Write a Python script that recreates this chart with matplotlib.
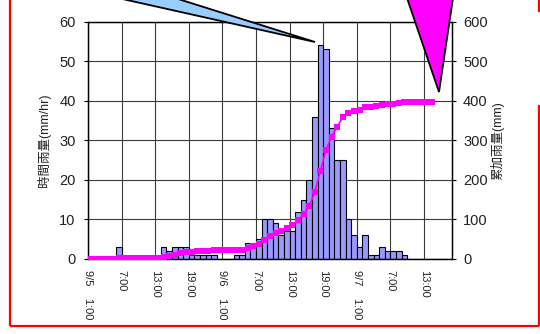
import numpy as np
import matplotlib
matplotlib.use("Agg")
import matplotlib.pyplot as plt
from matplotlib.patches import Polygon
from matplotlib.lines import Line2D

# Hourly rainfall (mm/hr), one value per hour starting 9/5 1:00
hourly = [0, 0, 0, 0, 0, 3, 0, 0, 0, 0, 0, 0, 0, 3, 2, 3, 3, 3, 1, 1,
          1, 1, 1, 0, 0, 0, 1, 1, 4, 4, 5, 10, 10, 9, 6, 7, 7, 12, 15, 20,
          36, 54, 53, 33, 25, 25, 10, 6, 3, 6, 1, 1, 3, 2, 2, 2, 1, 0, 0, 0,
          0, 0, 0, 0, 0]

# Accumulated rainfall (mm)
cumulative = [0, 0, 0, 0, 0, 3, 3, 3, 3, 3, 3, 3, 3, 6, 8, 11, 14, 17, 18, 19,
              20, 21, 22, 22, 22, 22, 23, 24, 28, 32, 37, 47, 57, 66, 72, 79, 86, 98, 113, 133,
              169, 223, 276, 309, 334, 359, 369, 375, 378, 384, 385, 386, 389, 391, 393, 395, 396, 396, 396, 396,
              396, 396]

tick_hours = [0, 6, 12, 18, 24, 30, 36, 42, 48, 54, 60]
tick_labels = ["9/5    1:00", "7:00", "13:00", "19:00", "9/6    1:00", "7:00",
               "13:00", "19:00", "9/7    1:00", "7:00", "13:00"]

FONT = ["Liberation Sans", "Noto Sans CJK TC", "DejaVu Sans"]
plt.rcParams["font.family"] = FONT

W, H = 540, 334
fig = plt.figure(figsize=(W / 100, H / 100), dpi=100)
fig.patch.set_facecolor("white")

left, right, top, bottom = 88, 452, 21.7, 259
ax = fig.add_axes([left / W, (H - bottom) / H, (right - left) / W, (bottom - top) / H])

x_bar = np.arange(len(hourly)) + 0.5
ax.bar(x_bar, hourly, width=1.0, color="#9999FF", edgecolor="black",
       linewidth=0.8, zorder=2)
ax.set_xlim(0, 65)
ax.set_ylim(0, 60)
ax.set_yticks(range(0, 61, 10))
ax.set_xticks(tick_hours)
ax.set_xticklabels(tick_labels, rotation=-90, fontsize=8, color="#222222")
ax.tick_params(axis="x", length=0, pad=8)
ax.tick_params(axis="y", length=3, pad=6, labelsize=10.5, labelcolor="#222222")
ax.grid(True, color="#3a3a3a", linewidth=0.8, zorder=0)
ax.set_axisbelow(True)
for s in ax.spines.values():
    s.set_color("black")
    s.set_linewidth(0.9)
ax.set_ylabel("時間雨量(mm/hr)", fontsize=9, labelpad=6, color="#222222")

ax2 = ax.twinx()
x_cum = np.arange(len(cumulative)) + 0.5
ax2.plot(x_cum, cumulative, color="#FF00FF", linewidth=1.2, marker="s",
         markersize=4.5, markeredgewidth=0, zorder=3)
ax2.set_ylim(0, 600)
ax2.set_yticks(range(0, 601, 100))
ax2.tick_params(axis="y", length=3, pad=5, labelsize=10.5, labelcolor="#222222")
for s in ax2.spines.values():
    s.set_color("black")
    s.set_linewidth(0.9)
ax2.set_ylabel("累加雨量(mm)", fontsize=9, labelpad=2, color="#222222")


def px(points):
    """Convert pixel positions (origin top-left) to figure inches."""
    return [(xp / 100, (H - yp) / 100) for xp, yp in points]


tr = fig.dpi_scale_trans

# Callout wedge pointing at the peak hour
wedge = Polygon(px([(118, -2), (175, -2), (315, 42)]), closed=True,
                facecolor="#99CCFF", edgecolor="black", linewidth=1.3,
                transform=tr, zorder=10, clip_on=False)
fig.patches.append(wedge)

# Callout triangle pointing at the accumulated total
tri = Polygon(px([(407, -2), (453, -2), (439, 92)]), closed=True,
              facecolor="#FF00FF", edgecolor="black", linewidth=1.3,
              transform=tr, zorder=10, clip_on=False)
fig.patches.append(tri)

# Red frame around the chart
frame_kw = dict(color="red", linewidth=1.6, transform=tr, solid_capstyle="butt")
fig.lines.append(Line2D([10 / 100, 10 / 100], [H / 100, (H - 326) / 100], **frame_kw))
fig.lines.append(Line2D([10 / 100, 538.5 / 100], [(H - 326) / 100, (H - 326) / 100], **frame_kw))
fig.lines.append(Line2D([538.5 / 100, 538.5 / 100], [(H - 326) / 100, (H - 105) / 100], **frame_kw))
fig.lines.append(Line2D([538.5 / 100, 538.5 / 100], [(H - 12) / 100, H / 100], **frame_kw))

fig.savefig("out.png", dpi=100)
